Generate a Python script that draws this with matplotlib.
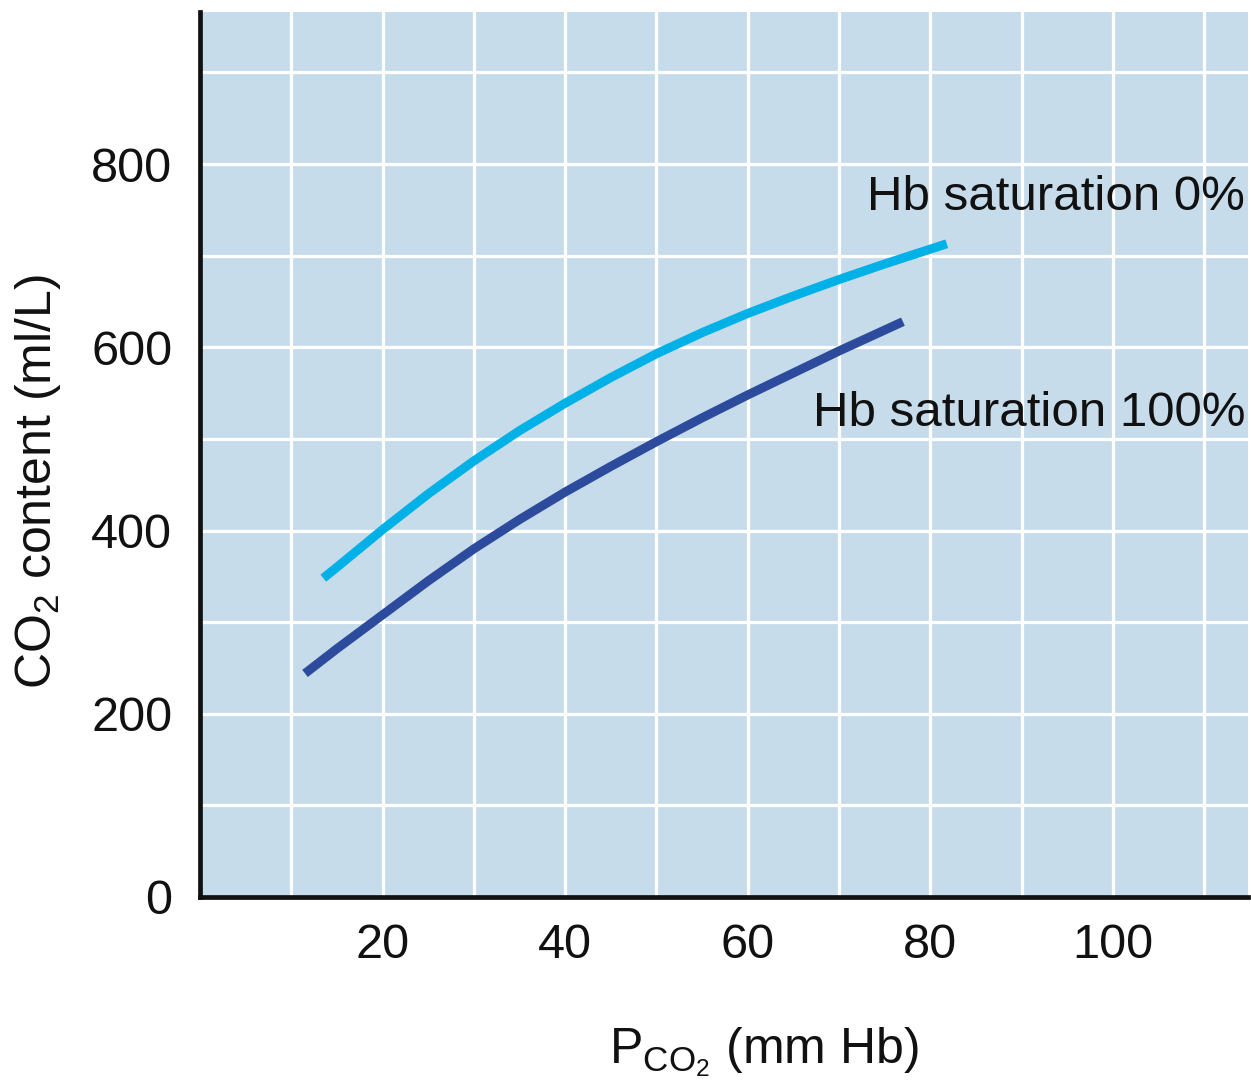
import matplotlib
matplotlib.use("Agg")
import matplotlib.pyplot as plt

plt.rcParams["font.family"] = ["Liberation Sans", "DejaVu Sans"]
plt.rcParams["mathtext.fontset"] = "custom"
plt.rcParams["mathtext.rm"] = "Liberation Sans"
plt.rcParams["mathtext.it"] = "Liberation Sans:italic"
plt.rcParams["mathtext.bf"] = "Liberation Sans:bold"
plt.rcParams["mathtext.default"] = "regular"

# CO2 dissociation curves: P_CO2 (mm Hg) vs CO2 content (ml/L)
pco2_sat0 = [13.5, 15, 20, 25, 30, 35, 40, 45, 50, 55, 60, 65, 70, 75, 81.8]
co2_sat0 = [348, 360, 401, 440, 476, 509, 539, 567, 593, 616, 637, 656, 674, 691, 713]

pco2_sat100 = [11.5, 15, 20, 25, 30, 35, 40, 45, 50, 55, 60, 65, 70, 77]
co2_sat100 = [244, 271, 308, 345, 380, 412, 442, 470, 497, 523, 548, 572, 596, 628]

label_sat0 = "Hb saturation 0%"
label_sat100 = "Hb saturation 100%"

x_grid = [10, 20, 30, 40, 50, 60, 70, 80, 90, 100, 110]
x_ticklabels = ["", "20", "", "40", "", "60", "", "80", "", "100", ""]
y_grid = [0, 100, 200, 300, 400, 500, 600, 700, 800, 900]
y_ticklabels = ["0", "", "200", "", "400", "", "600", "", "800", ""]

color_sat0 = "#00b1e8"
color_sat100 = "#2c4b9d"
panel_bg = "#c7dcea"

fig = plt.figure(figsize=(12.51, 10.92), dpi=100)
ax = fig.add_axes([0.1599, 0.1786, 0.8377, 0.8104])
ax.set_facecolor(panel_bg)

ax.set_xlim(0, 114.8)
ax.set_ylim(0, 966)

ax.set_xticks(x_grid)
ax.set_xticklabels(x_ticklabels)
ax.set_yticks(y_grid)
ax.set_yticklabels(y_ticklabels)
ax.tick_params(axis="both", length=0, labelsize=35, colors="#111111")
ax.tick_params(axis="x", pad=19)
ax.tick_params(axis="y", pad=20)

ax.grid(True, color="white", linewidth=2.3, zorder=1)
ax.set_axisbelow(True)

for side in ("top", "right"):
    ax.spines[side].set_visible(False)
for side in ("left", "bottom"):
    ax.spines[side].set_linewidth(3.4)
    ax.spines[side].set_color("#111111")

ax.plot(pco2_sat0, co2_sat0, color=color_sat0, linewidth=6.5,
        solid_capstyle="butt", solid_joinstyle="round", zorder=3)
ax.plot(pco2_sat100, co2_sat100, color=color_sat100, linewidth=6.5,
        solid_capstyle="butt", solid_joinstyle="round", zorder=3)

ax.text(114.5, 763, label_sat0, ha="right", va="center", fontsize=35.5,
        color="#111111", zorder=4)
ax.text(114.5, 528, label_sat100, ha="right", va="center", fontsize=35.5,
        color="#111111", zorder=4)

fig.text(764 / 1251, 1 - 1052 / 1092, r"P$_{CO_2}$ (mm Hb)", ha="center",
         va="center", fontsize=36, color="#111111")
fig.text(38 / 1251, 1 - 482 / 1092, r"CO$_2$ content (ml/L)", ha="center",
         va="center", rotation=90, fontsize=36, color="#111111")

fig.savefig("out.png", dpi=100, facecolor="white")
